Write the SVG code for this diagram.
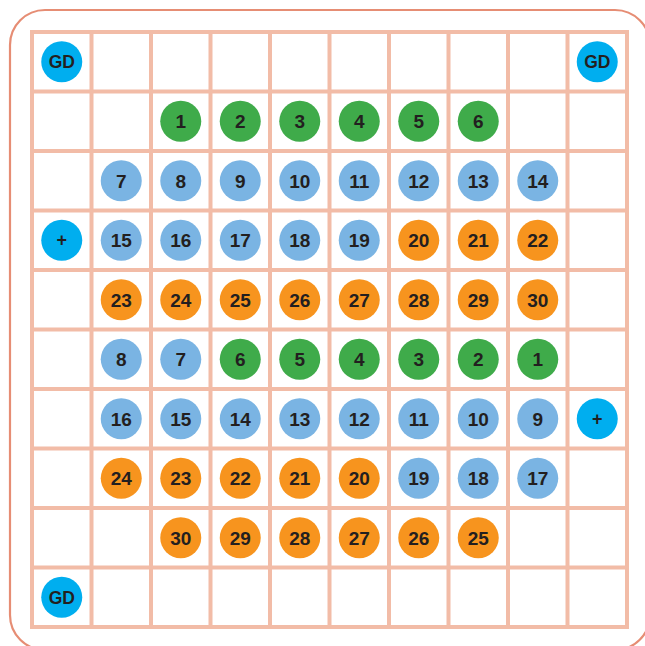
<svg xmlns="http://www.w3.org/2000/svg" width="645" height="646" viewBox="0 0 645 646">
<style>
.grid{fill:none;stroke:#f2bca7;stroke-width:4}
.frame{fill:#ffffff;stroke:#e68d74;stroke-width:2.2}
.gd{fill:#00aeef}
.bl{fill:#7ab4e3}
.gr{fill:#3fab4a}
.or{fill:#f7941e}
text{font-family:"Liberation Sans",Arial,sans-serif;font-weight:bold;font-size:19px;fill:#231f20;text-anchor:middle}
.p{font-size:18px}
.g{font-size:17.5px}
</style>
<rect class="frame" x="10" y="10" width="640" height="640" rx="35" ry="35"/>
<g id="grid">
<rect class="grid" x="32" y="32" width="595" height="595"/>
<path class="grid" d="M91.5 32V627M151 32V627M210.5 32V627M270 32V627M329.5 32V627M389 32V627M448.5 32V627M508 32V627M567.5 32V627M32 91.5H627M32 151H627M32 210.5H627M32 270H627M32 329.5H627M32 389H627M32 448.5H627M32 508H627M32 567.5H627"/>
</g>
<g id="connectors"></g>
<g id="gd1"><circle class="gd" cx="61.75" cy="61.75" r="20.5"/><text class="g" x="61.75" y="68.1">GD</text></g>
<g id="gd2"><circle class="gd" cx="597.25" cy="61.75" r="20.5"/><text class="g" x="597.25" y="68.1">GD</text></g>
<g id="gd3"><circle class="gd" cx="61.75" cy="597.25" r="20.5"/><text class="g" x="61.75" y="603.6">GD</text></g>
<g id="plus1"><circle class="gd" cx="61.75" cy="240.25" r="20.5"/><text class="p" x="61.75" y="246.3">+</text></g>
<g id="plus2"><circle class="gd" cx="597.25" cy="418.75" r="20.5"/><text class="p" x="597.25" y="424.8">+</text></g>
<g id="r1">
<g id="a1"><circle class="gr" cx="180.75" cy="121.25" r="20.5"/><text x="180.75" y="128.1">1</text></g>
<g id="a2"><circle class="gr" cx="240.25" cy="121.25" r="20.5"/><text x="240.25" y="128.1">2</text></g>
<g id="a3"><circle class="gr" cx="299.75" cy="121.25" r="20.5"/><text x="299.75" y="128.1">3</text></g>
<g id="a4"><circle class="gr" cx="359.25" cy="121.25" r="20.5"/><text x="359.25" y="128.1">4</text></g>
<g id="a5"><circle class="gr" cx="418.75" cy="121.25" r="20.5"/><text x="418.75" y="128.1">5</text></g>
<g id="a6"><circle class="gr" cx="478.25" cy="121.25" r="20.5"/><text x="478.25" y="128.1">6</text></g>
</g>
<g id="r2">
<g id="a7"><circle class="bl" cx="121.25" cy="180.75" r="20.5"/><text x="121.25" y="187.6">7</text></g>
<g id="a8"><circle class="bl" cx="180.75" cy="180.75" r="20.5"/><text x="180.75" y="187.6">8</text></g>
<g id="a9"><circle class="bl" cx="240.25" cy="180.75" r="20.5"/><text x="240.25" y="187.6">9</text></g>
<g id="a10"><circle class="bl" cx="299.75" cy="180.75" r="20.5"/><text x="299.75" y="187.6">10</text></g>
<g id="a11"><circle class="bl" cx="359.25" cy="180.75" r="20.5"/><text x="359.25" y="187.6">11</text></g>
<g id="a12"><circle class="bl" cx="418.75" cy="180.75" r="20.5"/><text x="418.75" y="187.6">12</text></g>
<g id="a13"><circle class="bl" cx="478.25" cy="180.75" r="20.5"/><text x="478.25" y="187.6">13</text></g>
<g id="a14"><circle class="bl" cx="537.75" cy="180.75" r="20.5"/><text x="537.75" y="187.6">14</text></g>
</g>
<g id="r3">
<g id="a15"><circle class="bl" cx="121.25" cy="240.25" r="20.5"/><text x="121.25" y="247.1">15</text></g>
<g id="a16"><circle class="bl" cx="180.75" cy="240.25" r="20.5"/><text x="180.75" y="247.1">16</text></g>
<g id="a17"><circle class="bl" cx="240.25" cy="240.25" r="20.5"/><text x="240.25" y="247.1">17</text></g>
<g id="a18"><circle class="bl" cx="299.75" cy="240.25" r="20.5"/><text x="299.75" y="247.1">18</text></g>
<g id="a19"><circle class="bl" cx="359.25" cy="240.25" r="20.5"/><text x="359.25" y="247.1">19</text></g>
<g id="a20"><circle class="or" cx="418.75" cy="240.25" r="20.5"/><text x="418.75" y="247.1">20</text></g>
<g id="a21"><circle class="or" cx="478.25" cy="240.25" r="20.5"/><text x="478.25" y="247.1">21</text></g>
<g id="a22"><circle class="or" cx="537.75" cy="240.25" r="20.5"/><text x="537.75" y="247.1">22</text></g>
</g>
<g id="r4">
<g id="a23"><circle class="or" cx="121.25" cy="299.75" r="20.5"/><text x="121.25" y="306.6">23</text></g>
<g id="a24"><circle class="or" cx="180.75" cy="299.75" r="20.5"/><text x="180.75" y="306.6">24</text></g>
<g id="a25"><circle class="or" cx="240.25" cy="299.75" r="20.5"/><text x="240.25" y="306.6">25</text></g>
<g id="a26"><circle class="or" cx="299.75" cy="299.75" r="20.5"/><text x="299.75" y="306.6">26</text></g>
<g id="a27"><circle class="or" cx="359.25" cy="299.75" r="20.5"/><text x="359.25" y="306.6">27</text></g>
<g id="a28"><circle class="or" cx="418.75" cy="299.75" r="20.5"/><text x="418.75" y="306.6">28</text></g>
<g id="a29"><circle class="or" cx="478.25" cy="299.75" r="20.5"/><text x="478.25" y="306.6">29</text></g>
<g id="a30"><circle class="or" cx="537.75" cy="299.75" r="20.5"/><text x="537.75" y="306.6">30</text></g>
</g>
<g id="r5">
<g id="b8"><circle class="bl" cx="121.25" cy="359.25" r="20.5"/><text x="121.25" y="366.1">8</text></g>
<g id="b7"><circle class="bl" cx="180.75" cy="359.25" r="20.5"/><text x="180.75" y="366.1">7</text></g>
<g id="b6"><circle class="gr" cx="240.25" cy="359.25" r="20.5"/><text x="240.25" y="366.1">6</text></g>
<g id="b5"><circle class="gr" cx="299.75" cy="359.25" r="20.5"/><text x="299.75" y="366.1">5</text></g>
<g id="b4"><circle class="gr" cx="359.25" cy="359.25" r="20.5"/><text x="359.25" y="366.1">4</text></g>
<g id="b3"><circle class="gr" cx="418.75" cy="359.25" r="20.5"/><text x="418.75" y="366.1">3</text></g>
<g id="b2"><circle class="gr" cx="478.25" cy="359.25" r="20.5"/><text x="478.25" y="366.1">2</text></g>
<g id="b1"><circle class="gr" cx="537.75" cy="359.25" r="20.5"/><text x="537.75" y="366.1">1</text></g>
</g>
<g id="r6">
<g id="b16"><circle class="bl" cx="121.25" cy="418.75" r="20.5"/><text x="121.25" y="425.6">16</text></g>
<g id="b15"><circle class="bl" cx="180.75" cy="418.75" r="20.5"/><text x="180.75" y="425.6">15</text></g>
<g id="b14"><circle class="bl" cx="240.25" cy="418.75" r="20.5"/><text x="240.25" y="425.6">14</text></g>
<g id="b13"><circle class="bl" cx="299.75" cy="418.75" r="20.5"/><text x="299.75" y="425.6">13</text></g>
<g id="b12"><circle class="bl" cx="359.25" cy="418.75" r="20.5"/><text x="359.25" y="425.6">12</text></g>
<g id="b11"><circle class="bl" cx="418.75" cy="418.75" r="20.5"/><text x="418.75" y="425.6">11</text></g>
<g id="b10"><circle class="bl" cx="478.25" cy="418.75" r="20.5"/><text x="478.25" y="425.6">10</text></g>
<g id="b9"><circle class="bl" cx="537.75" cy="418.75" r="20.5"/><text x="537.75" y="425.6">9</text></g>
</g>
<g id="r7">
<g id="b24"><circle class="or" cx="121.25" cy="478.25" r="20.5"/><text x="121.25" y="485.1">24</text></g>
<g id="b23"><circle class="or" cx="180.75" cy="478.25" r="20.5"/><text x="180.75" y="485.1">23</text></g>
<g id="b22"><circle class="or" cx="240.25" cy="478.25" r="20.5"/><text x="240.25" y="485.1">22</text></g>
<g id="b21"><circle class="or" cx="299.75" cy="478.25" r="20.5"/><text x="299.75" y="485.1">21</text></g>
<g id="b20"><circle class="or" cx="359.25" cy="478.25" r="20.5"/><text x="359.25" y="485.1">20</text></g>
<g id="b19"><circle class="bl" cx="418.75" cy="478.25" r="20.5"/><text x="418.75" y="485.1">19</text></g>
<g id="b18"><circle class="bl" cx="478.25" cy="478.25" r="20.5"/><text x="478.25" y="485.1">18</text></g>
<g id="b17"><circle class="bl" cx="537.75" cy="478.25" r="20.5"/><text x="537.75" y="485.1">17</text></g>
</g>
<g id="r8">
<g id="b30"><circle class="or" cx="180.75" cy="537.75" r="20.5"/><text x="180.75" y="544.6">30</text></g>
<g id="b29"><circle class="or" cx="240.25" cy="537.75" r="20.5"/><text x="240.25" y="544.6">29</text></g>
<g id="b28"><circle class="or" cx="299.75" cy="537.75" r="20.5"/><text x="299.75" y="544.6">28</text></g>
<g id="b27"><circle class="or" cx="359.25" cy="537.75" r="20.5"/><text x="359.25" y="544.6">27</text></g>
<g id="b26"><circle class="or" cx="418.75" cy="537.75" r="20.5"/><text x="418.75" y="544.6">26</text></g>
<g id="b25"><circle class="or" cx="478.25" cy="537.75" r="20.5"/><text x="478.25" y="544.6">25</text></g>
</g>
</svg>
